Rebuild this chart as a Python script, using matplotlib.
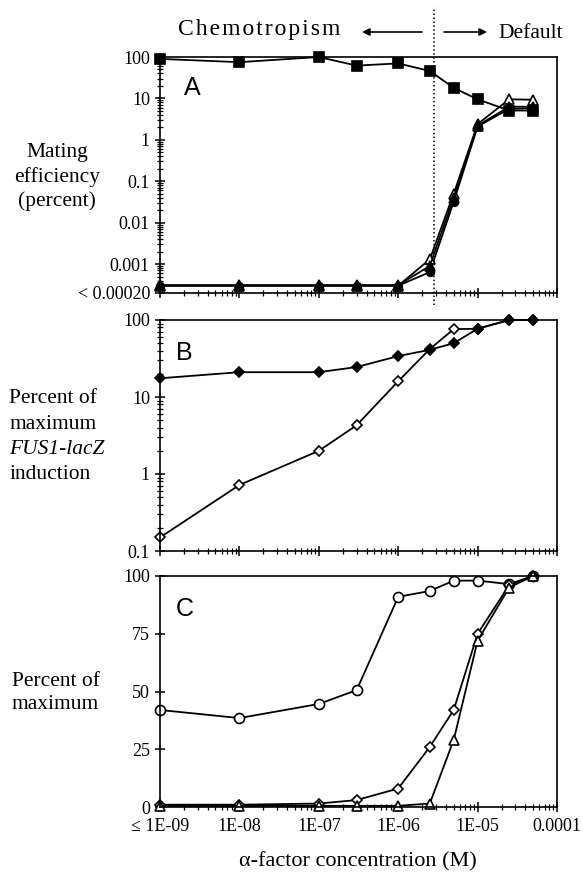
import matplotlib
matplotlib.use("Agg")
import matplotlib.pyplot as plt
from matplotlib.patches import FancyArrowPatch
from matplotlib.ticker import FixedLocator, FixedFormatter, LogLocator, NullFormatter, NullLocator

# alpha-factor concentrations (M)
conc = [1e-9, 1e-8, 1e-7, 3e-7, 1e-6, 2.5e-6, 5e-6, 1e-5, 2.5e-5, 5e-5]
x_major = [1e-9, 1e-8, 1e-7, 1e-6, 1e-5, 1e-4]
x_labels = ["\u2264 1E-09", "1E-08", "1E-07", "1E-06", "1E-05", "0.0001"]
boundary = 2.8e-6  # chemotropism / default split

# panel A: mating efficiency (percent)
a_squares = [90, 75, 100, 62, 70, 46, 18, 9.5, 5.1, 5.1]
a_circles = [0.0003, 0.0003, 0.0003, 0.0003, 0.0003, 0.00064, 0.032, 2.1, 5.6, 5.8]
a_tri_open = [0.0003, 0.0003, 0.0003, 0.0003, 0.0003, 0.0013, 0.05, 2.4, 9.5, 9.3]
a_tri_filled = [0.00031, 0.00031, 0.00031, 0.00031, 0.00031, 0.0009, 0.04, 2.2, 6.3, 6.3]
a_yticks = [0.0002, 0.001, 0.01, 0.1, 1, 10, 100]
a_ylabels = ["< 0.00020", "0.001", "0.01", "0.1", "1", "10", "100"]

# panel B: percent of maximum FUS1-lacZ induction
b_filled = [17.5, 21, 21, 24.5, 34, 41, 50, 77, 100, 100]
b_open = [0.15, 0.72, 2.0, 4.3, 16, 42, 76, 77, 100, 100]
b_yticks = [0.1, 1, 10, 100]
b_ylabels = ["0.1", "1", "10", "100"]

# panel C: percent of maximum
c_circles = [42, 38.5, 44.6, 50.6, 91, 93.5, 98, 98, 96.5, 100]
c_diamonds = [1, 1, 1.5, 3, 8, 26, 42, 75, 96, 100]
c_triangles = [0.5, 0.5, 0.5, 0.5, 0.5, 1.5, 29, 72, 95, 100]
c_yticks = [0, 25, 50, 75, 100]

SERIF = ["Liberation Serif", "DejaVu Serif"]
plt.rcParams["font.family"] = SERIF

W, H = 583, 873
fig = plt.figure(figsize=(W / 100, H / 100), dpi=100)


def px(x, y):
    return x / W, 1 - y / H


def make_axes(top, bottom):
    left, right = 160, 557
    return fig.add_axes([left / W, 1 - bottom / H, (right - left) / W, (bottom - top) / H])


def style_axes(ax, show_xlabels):
    for s in ax.spines.values():
        s.set_linewidth(1.2)
    ax.set_xscale("log")
    ax.set_xlim(1e-9, 1e-4)
    ax.xaxis.set_major_locator(FixedLocator(x_major))
    ax.xaxis.set_minor_locator(LogLocator(base=10, subs=range(2, 10)))
    ax.xaxis.set_minor_formatter(NullFormatter())
    if show_xlabels:
        ax.xaxis.set_major_formatter(FixedFormatter(x_labels))
    else:
        ax.xaxis.set_major_formatter(NullFormatter())
    ax.tick_params(which="major", direction="inout", length=7.5, width=1.1,
                   labelsize=13, pad=3.5, top=False, right=False)
    ax.tick_params(which="minor", direction="inout", length=4, width=0.9,
                   top=False, right=False)


line_kw = dict(color="black", lw=1.3, mec="black", mew=1.2, clip_on=False)

# ---- panel A
ax_a = make_axes(57, 293)
style_axes(ax_a, False)
ax_a.set_yscale("log")
ax_a.set_ylim(0.0002, 100)
ax_a.plot(conc, a_circles, marker="o", ms=5.5, mfc="black", **line_kw)
ax_a.plot(conc, a_tri_open, marker="^", ms=7.5, mfc="white", **line_kw)
ax_a.plot(conc, a_tri_filled, marker="^", ms=7.5, mfc="black", **line_kw)
ax_a.plot(conc, a_squares, marker="s", ms=7, mfc="black", **line_kw)
ax_a.yaxis.set_major_locator(FixedLocator(a_yticks))
ax_a.yaxis.set_major_formatter(FixedFormatter(a_ylabels))
ax_a.yaxis.set_minor_locator(LogLocator(base=10, subs=range(2, 10)))
ax_a.yaxis.set_minor_formatter(NullFormatter())
ax_a.axvline(boundary, ymin=-0.05, ymax=1.21, color="black", lw=1.1,
             ls=(0, (1.0, 1.6)), clip_on=False)
ax_a.text(0.06, 0.92, "A", transform=ax_a.transAxes, fontsize=18,
          family="Liberation Sans", va="top", ha="left")

# ---- panel B
ax_b = make_axes(320, 551)
style_axes(ax_b, False)
ax_b.set_yscale("log")
ax_b.set_ylim(0.1, 100)
ax_b.plot(conc, b_open, marker="D", ms=5.3, mfc="white", **line_kw)
ax_b.plot(conc, b_filled, marker="D", ms=5.5, mfc="black", **line_kw)
ax_b.yaxis.set_major_locator(FixedLocator(b_yticks))
ax_b.yaxis.set_major_formatter(FixedFormatter(b_ylabels))
ax_b.yaxis.set_minor_locator(LogLocator(base=10, subs=range(2, 10)))
ax_b.yaxis.set_minor_formatter(NullFormatter())
ax_b.text(0.04, 0.91, "B", transform=ax_b.transAxes, fontsize=18,
          family="Liberation Sans", va="top", ha="left")

# ---- panel C
ax_c = make_axes(576, 807)
style_axes(ax_c, True)
ax_c.set_ylim(0, 100)
ax_c.plot(conc, c_circles, marker="o", ms=7.2, mfc="white", **line_kw)
ax_c.plot(conc, c_diamonds, marker="D", ms=4.6, mfc="white", **line_kw)
ax_c.plot(conc, c_triangles, marker="^", ms=6.5, mfc="white", **line_kw)
ax_c.yaxis.set_major_locator(FixedLocator(c_yticks))
ax_c.yaxis.set_minor_locator(NullLocator())
ax_c.tick_params(axis="x", pad=4)
ax_c.text(0.04, 0.91, "C", transform=ax_c.transAxes, fontsize=18,
          family="Liberation Sans", va="top", ha="left")

# ---- labels
fig.text(*px(57, 177), "Mating\nefficiency\n(percent)", fontsize=15.5,
         ha="center", va="center", linespacing=1.3)
b_lines = [("Percent of", "normal", 399), ("maximum", "normal", 424),
           ("FUS1-lacZ", "italic", 450), ("induction", "normal", 475)]
for txt, style, y in b_lines:
    fig.text(*px(9, y), txt, fontsize=15.5, style=style, ha="left", va="center")
fig.text(*px(12, 693), "Percent of\nmaximum", fontsize=15.5,
         ha="left", va="center", linespacing=1.3)
fig.text(*px(358, 862), "\u03b1-factor concentration (M)", fontsize=16,
         ha="center", va="center")

# ---- top annotation
fig.text(*px(178, 30), "\u200a".join("Chemotropism"), fontsize=17,
         ha="left", va="center")
fig.text(*px(498, 33), "Default", fontsize=15.5, ha="left", va="center")
arrow = dict(arrowstyle="-|>", lw=1.2, color="black", mutation_scale=11,
             shrinkA=0, shrinkB=0)
fig.add_artist(FancyArrowPatch(px(422, 32), px(362, 32),
               transform=fig.transFigure, **arrow))
fig.add_artist(FancyArrowPatch(px(444, 32), px(487, 32),
               transform=fig.transFigure, **arrow))

fig.savefig("out.png", dpi=100)
